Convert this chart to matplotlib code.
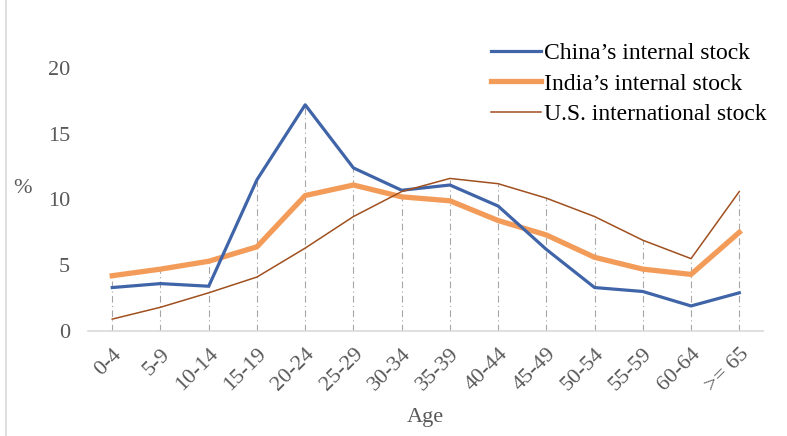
import matplotlib.pyplot as plt
from matplotlib.patches import Rectangle

# Age distribution of migrant stocks (% of each stock)
ages = ['0-4', '5-9', '10-14', '15-19', '20-24', '25-29', '30-34',
        '35-39', '40-44', '45-49', '50-54', '55-59', '60-64', '>= 65']
china = [3.3, 3.6, 3.4, 11.5, 17.2, 12.4, 10.7, 11.1, 9.5, 6.2, 3.3, 3.0, 1.9, 2.9]
india = [4.2, 4.7, 5.3, 6.4, 10.3, 11.1, 10.2, 9.9, 8.4, 7.3, 5.6, 4.7, 4.3, 7.5]
us = [0.9, 1.8, 2.9, 4.1, 6.3, 8.7, 10.6, 11.6, 11.2, 10.1, 8.7, 6.9, 5.5, 10.6]

plt.rcParams['font.family'] = ['Liberation Serif', 'DejaVu Serif']


def main():
    fig = plt.figure(figsize=(7.87, 4.36), dpi=100)
    ax = fig.add_axes([0.112, 0.241, 0.858, 0.603])
    x = list(range(len(ages)))

    # drop lines from the highest series down to the axis
    tops = [max(a, b, c) for a, b, c in zip(china, india, us)]
    ax.vlines(x, 0, tops, colors='#A6A6A6', linestyles=(0, (6, 3, 1, 3)), linewidth=0.8, zorder=1)

    ax.plot(x, china, color='#4064A8', linewidth=2.3, label='China\u2019s internal stock', zorder=3)
    ax.plot(x, india, color='#F39C5A', linewidth=3.8, label='India\u2019s internal stock', zorder=2)
    ax.plot(x, us, color='#A0501E', linewidth=1.1, label='U.S. international stock', zorder=4)

    ax.set_xlim(-0.5, len(ages) - 0.5)
    ax.set_ylim(0, 20)
    ax.set_yticks([0, 5, 10, 15, 20])
    ax.set_xticks(x)
    ax.set_xticklabels(ages, rotation=45, ha='right', rotation_mode='anchor')
    ax.tick_params(axis='both', length=0, labelsize=16, colors='#595959')
    ax.tick_params(axis='y', pad=13)
    ax.tick_params(axis='x', pad=10)
    for side in ['top', 'right', 'left']:
        ax.spines[side].set_visible(False)
    ax.spines['bottom'].set_color('#D9D9D9')
    ax.spines['bottom'].set_linewidth(1.2)

    ax.set_xlabel('Age', fontsize=16, color='#595959', labelpad=9)
    fig.text(0.028, 0.568, '%', fontsize=16, color='#595959', ha='center', va='center')

    leg = fig.legend(loc='upper right', bbox_to_anchor=(0.995, 0.94), frameon=False,
                     fontsize=17, handlelength=2.1, handletextpad=0.12, labelspacing=0.38,
                     borderpad=0.2)
    for t in leg.get_texts():
        t.set_color('#000000')

    # chart area border
    fig.patches.append(Rectangle((0.007, -0.01), 1.0, 1.02, transform=fig.transFigure,
                                 fill=False, edgecolor='#D9D9D9', linewidth=1.2))

    fig.savefig('out.png', dpi=100)


if __name__ == "__main__":
    main()
